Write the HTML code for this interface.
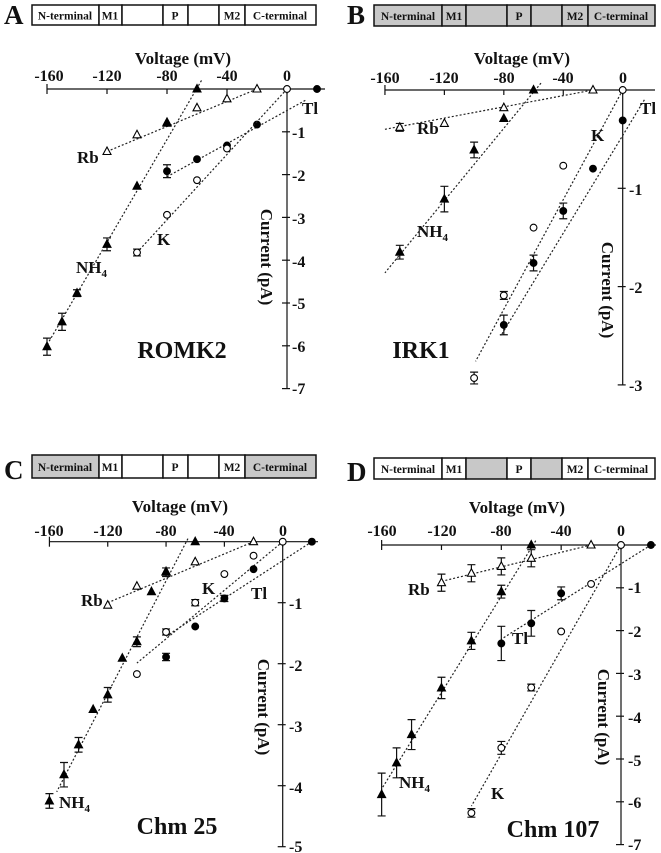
<!DOCTYPE html>
<html><head><meta charset="utf-8"><style>
html,body{margin:0;padding:0;background:#fff}
svg{display:block}
text{font-family:"Liberation Serif",serif;font-weight:bold;fill:#111}
.t{font-size:16px;text-anchor:middle}
.y{font-size:16px;text-anchor:start}
.h{font-size:17px;text-anchor:middle}
.L{font-size:27px}
.s{font-size:11.5px;text-anchor:middle}
.lb{font-size:17px}
.nm{font-size:24px;text-anchor:middle}
</style></head><body>
<svg id="sv" width="661" height="853" viewBox="0 0 661 853" xmlns="http://www.w3.org/2000/svg">
<g id="g"></g>
<text class="L" x="4" y="24">A</text>
<text class="L" x="347" y="24">B</text>
<text class="L" x="4" y="479">C</text>
<text class="L" x="347" y="481">D</text>
<text class="s" x="65" y="19.5">N-terminal</text><text class="s" x="110" y="19.5">M1</text><text class="s" x="175" y="19.5">P</text><text class="s" x="232" y="19.5">M2</text><text class="s" x="280" y="19.5">C-terminal</text>
<text class="s" x="408" y="20">N-terminal</text><text class="s" x="454" y="20">M1</text><text class="s" x="519" y="20">P</text><text class="s" x="575" y="20">M2</text><text class="s" x="621" y="20">C-terminal</text>
<text class="s" x="65" y="471">N-terminal</text><text class="s" x="110" y="471">M1</text><text class="s" x="175" y="471">P</text><text class="s" x="232" y="471">M2</text><text class="s" x="280" y="471">C-terminal</text>
<text class="s" x="408" y="473">N-terminal</text><text class="s" x="454" y="473">M1</text><text class="s" x="519" y="473">P</text><text class="s" x="575" y="473">M2</text><text class="s" x="621" y="473">C-terminal</text>
<!-- A -->
<text class="h" x="183" y="64">Voltage (mV)</text>
<text class="t" x="49" y="81">-160</text><text class="t" x="107" y="81">-120</text><text class="t" x="167" y="81">-80</text><text class="t" x="227" y="81">-40</text><text class="t" x="287" y="81">0</text>
<text class="y" x="292" y="138">-1</text><text class="y" x="292" y="181">-2</text><text class="y" x="292" y="224">-3</text><text class="y" x="292" y="267">-4</text><text class="y" x="292" y="309">-5</text><text class="y" x="292" y="352">-6</text><text class="y" x="292" y="394">-7</text>
<text class="h" transform="translate(261,257) rotate(90)">Current (pA)</text>
<text class="lb" x="77" y="163">Rb</text><text class="lb" x="76" y="273">NH<tspan font-size="11" dy="4">4</tspan></text><text class="lb" x="157" y="245">K</text><text class="lb" x="302" y="114">Tl</text>
<text class="nm" x="182" y="358">ROMK2</text>
<!-- B -->
<text class="h" x="522" y="64">Voltage (mV)</text>
<text class="t" x="385" y="83">-160</text><text class="t" x="444" y="83">-120</text><text class="t" x="504" y="83">-80</text><text class="t" x="563" y="83">-40</text><text class="t" x="623" y="83">0</text>
<text class="y" x="629" y="195">-1</text><text class="y" x="629" y="293">-2</text><text class="y" x="629" y="391">-3</text>
<text class="h" transform="translate(602,290) rotate(90)">Current (pA)</text>
<text class="lb" x="417" y="134">Rb</text><text class="lb" x="417" y="237">NH<tspan font-size="11" dy="4">4</tspan></text><text class="lb" x="591" y="141">K</text><text class="lb" x="640" y="114">Tl</text>
<text class="nm" x="421" y="358">IRK1</text>
<!-- C -->
<text class="h" x="180" y="512">Voltage (mV)</text>
<text class="t" x="49" y="536">-160</text><text class="t" x="108" y="536">-120</text><text class="t" x="166" y="536">-80</text><text class="t" x="224" y="536">-40</text><text class="t" x="283" y="536">0</text>
<text class="y" x="289" y="609">-1</text><text class="y" x="289" y="671">-2</text><text class="y" x="289" y="732">-3</text><text class="y" x="289" y="793">-4</text><text class="y" x="289" y="852">-5</text>
<text class="h" transform="translate(258,707) rotate(90)">Current (pA)</text>
<text class="lb" x="81" y="606">Rb</text><text class="lb" x="59" y="808">NH<tspan font-size="11" dy="4">4</tspan></text><text class="lb" x="202" y="594">K</text><text class="lb" x="251" y="599">Tl</text>
<text class="nm" x="177" y="834">Chm 25</text>
<!-- D -->
<text class="h" x="517" y="513">Voltage (mV)</text>
<text class="t" x="382" y="536">-160</text><text class="t" x="442" y="536">-120</text><text class="t" x="501" y="536">-80</text><text class="t" x="561" y="536">-40</text><text class="t" x="621" y="536">0</text>
<text class="y" x="628" y="593">-1</text><text class="y" x="628" y="637">-2</text><text class="y" x="628" y="680">-3</text><text class="y" x="628" y="723">-4</text><text class="y" x="628" y="766">-5</text><text class="y" x="628" y="808">-6</text><text class="y" x="628" y="850">-7</text>
<text class="h" transform="translate(598,717) rotate(90)">Current (pA)</text>
<text class="lb" x="408" y="595">Rb</text><text class="lb" x="512" y="644">Tl</text><text class="lb" x="399" y="788">NH<tspan font-size="11" dy="4">4</tspan></text><text class="lb" x="491" y="799">K</text>
<text class="nm" x="553" y="837">Chm 107</text>
</svg>
<script>
const NS="http://www.w3.org/2000/svg",G=document.getElementById('g');
function el(t,a){const e=document.createElementNS(NS,t);for(const k in a)e.setAttribute(k,a[k]);G.appendChild(e);return e;}
function header(x0,y0,y1,bs,grey){for(let i=0;i<bs.length-1;i++){el('rect',{x:bs[i],y:y0,width:bs[i+1]-bs[i],height:y1-y0,fill:grey[i]?'#c8c8c8':'#fff',stroke:'#111','stroke-width':1.5});}}
header(0,5,25,[32,99,122,163,188,219,245,316],[0,0,0,0,0,0,0]);
header(0,5,26,[374,442,466,507,531,562,588,655],[1,1,1,1,1,1,1]);
header(0,455,478,[32,99,122,163,188,219,245,316],[1,0,0,0,0,0,1]);
header(0,458,479,[374,442,466,507,531,562,588,655],[0,0,1,0,1,0,0]);
function panel(P){
 const X=v=>P.x0+v*P.sx, Y=v=>P.y0-v*P.sy;
 el('line',{x1:X(-160),y1:P.y0,x2:P.xe,y2:P.y0,stroke:'#111','stroke-width':1.2});
 el('line',{x1:X(-160),y1:P.y0-5,x2:X(-160),y2:P.y0+5,stroke:'#111','stroke-width':1.2});
 for(let v=-120;v<=0;v+=40)el('line',{x1:X(v),y1:P.y0,x2:X(v),y2:P.y0+5,stroke:'#111','stroke-width':1.2});
 el('line',{x1:P.x0,y1:P.y0,x2:P.x0,y2:Y(-P.ymax),stroke:'#111','stroke-width':1.2});
 for(let v=1;v<=P.ymax;v++)el('line',{x1:P.x0-5,y1:Y(-v),x2:P.x0+3,y2:Y(-v),stroke:'#111','stroke-width':1.2});
 for(const s of P.series){
  el('line',{x1:X(s.l[0]),y1:Y(s.l[1]),x2:X(s.l[2]),y2:Y(s.l[3]),stroke:'#222','stroke-width':1.2,'stroke-dasharray':'2,2'});
  for(const p of s.p){
   const cx=X(p[0]),cy=Y(p[1]);
   if(p[2]){const e=p[2]*P.sy;el('path',{d:`M${cx},${cy-e}V${cy+e}M${cx-4},${cy-e}H${cx+4}M${cx-4},${cy+e}H${cx+4}`,stroke:'#111','stroke-width':1.2,fill:'none'});}
   const f=s.f?'#000':'#fff';
   if(s.m=='t')el('path',{d:`M${cx},${cy-4.5}L${cx+4},${cy+3}L${cx-4},${cy+3}Z`,fill:f,stroke:'#000','stroke-width':1.1});
   else el('circle',{cx:cx,cy:cy,r:3.4,fill:f,stroke:'#000','stroke-width':1.1});
  }
 }
}
panel({x0:287,sx:1.5,y0:89,sy:42.8,ymax:7,xe:325,series:[
 {m:'t',f:0,l:[-120,-1.46,-20,0],p:[[-20,0],[-40,-0.23],[-60,-0.44],[-80,-0.78],[-100,-1.07],[-120,-1.46]]},
 {m:'t',f:1,l:[-57,0.2,-162,-6.1],p:[[-60,0],[-80,-0.8],[-100,-2.27],[-120,-3.63,0.15],[-140,-4.77,0.08],[-150,-5.44,0.2],[-160,-6.02,0.2]]},
 {m:'c',f:1,l:[-80,-2.05,13,-0.25],p:[[20,0],[-20,-0.83],[-40,-1.32],[-60,-1.64],[-80,-1.92,0.15]]},
 {m:'c',f:0,l:[0,0,-100,-3.82],p:[[0,0],[-40,-1.39],[-60,-2.13],[-80,-2.94],[-100,-3.82,0.08]]}]});
panel({x0:622.7,sx:1.486,y0:90,sy:98.3,ymax:3,xe:655,series:[
 {m:'t',f:0,l:[-160,-0.4,-20,0],p:[[-20,0],[-80,-0.18],[-120,-0.34],[-150,-0.38,0.04]]},
 {m:'t',f:1,l:[-55,0.07,-160,-1.86],p:[[-60,0],[-80,-0.29],[-100,-0.61,0.08],[-120,-1.11,0.13],[-150,-1.65,0.07]]},
 {m:'c',f:1,l:[14.6,-0.1,-82,-2.5],p:[[0,-0.31],[-20,-0.8],[-40,-1.23,0.08],[-60,-1.76,0.08],[-80,-2.39,0.1]]},
 {m:'c',f:0,l:[0,0,-99,-2.76],p:[[0,0],[-40,-0.77],[-60,-1.4],[-80,-2.09,0.04],[-100,-2.93,0.06]]}]});
panel({x0:282.7,sx:1.458,y0:541.7,sy:61,ymax:5,xe:318,series:[
 {m:'t',f:0,l:[-120,-1.0,-20,0],p:[[-20,0],[-60,-0.33],[-80,-0.49],[-100,-0.73],[-120,-1.04]]},
 {m:'t',f:1,l:[-65,0.05,-155,-4.1],p:[[-60,0],[-80,-0.5,0.07],[-90,-0.82],[-100,-1.64,0.08],[-110,-1.91],[-120,-2.51,0.12],[-130,-2.75],[-140,-3.33,0.12],[-150,-3.82,0.2],[-160,-4.25,0.12]]},
 {m:'c',f:0,l:[0,0,-100,-1.99],p:[[0,0],[-20,-0.23],[-40,-0.53],[-60,-1.0,0.05],[-80,-1.48,0.05],[-100,-2.17]]},
 {m:'c',f:1,l:[20,0,-80,-1.55],p:[[20,0],[-20,-0.45],[-40,-0.93,0.05],[-60,-1.39],[-80,-1.89,0.06]]}]});
panel({x0:621,sx:1.496,y0:545,sy:42.8,ymax:7,xe:656,series:[
 {m:'t',f:0,l:[-120,-0.85,-20,0],p:[[-20,0],[-60,-0.31,0.2],[-80,-0.5,0.2],[-100,-0.66,0.2],[-120,-0.88,0.2]]},
 {m:'t',f:1,l:[-57,0.1,-160,-5.7],p:[[-60,0],[-80,-1.09,0.15],[-100,-2.24,0.2],[-120,-3.34,0.25],[-140,-4.43,0.35],[-150,-5.09,0.35],[-160,-5.83,0.5]]},
 {m:'c',f:1,l:[20,0,-80,-2.2],p:[[20,0],[-40,-1.13,0.15],[-60,-1.83,0.3],[-80,-2.3,0.4]]},
 {m:'c',f:0,l:[0,0,-100,-6.1],p:[[0,0],[-20,-0.91],[-40,-2.02],[-60,-3.33,0.08],[-80,-4.74,0.15],[-100,-6.26,0.1]]}]});
</script>
</body></html>
